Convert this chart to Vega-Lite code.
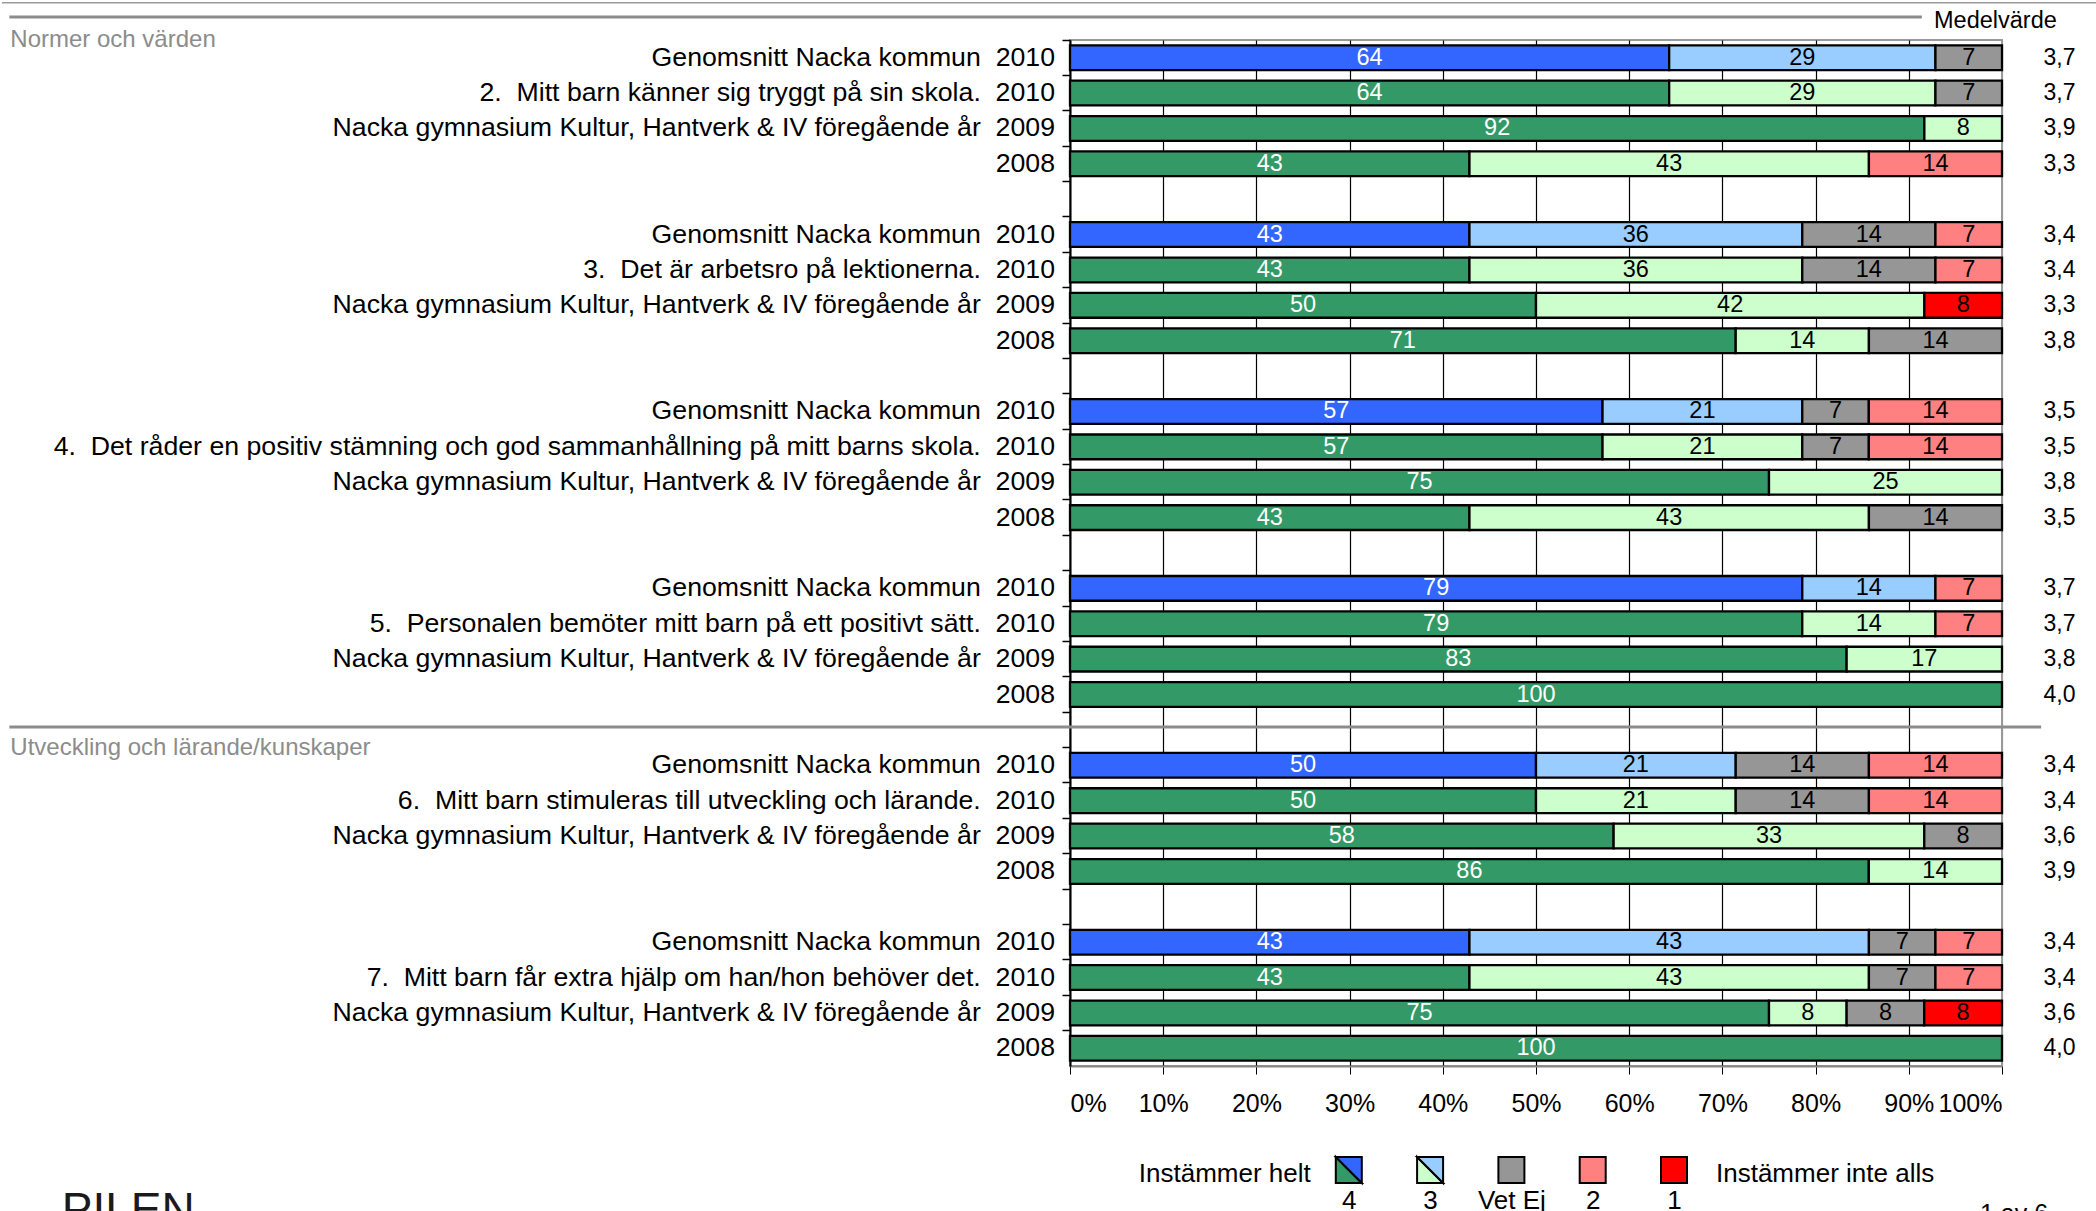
{
  "$schema": "https://vega.github.io/schema/vega-lite/v6.json",
  "padding": 0,
  "background": "white",
  "spacing": 36,
  "config": {
    "font": "Liberation Sans",
    "view": {"stroke": null},
    "axis": {"labelFont": "Liberation Sans"}
  },
  "datasets": {
    "segs": [
      {"row": "r00", "cat": "4k", "n": 1, "v": 64.29}, {"row": "r00", "cat": "3k", "n": 2, "v": 28.57}, {"row": "r00", "cat": "VE", "n": 3, "v": 7.14},
      {"row": "r01", "cat": "4", "n": 1, "v": 64.29}, {"row": "r01", "cat": "3", "n": 2, "v": 28.57}, {"row": "r01", "cat": "VE", "n": 3, "v": 7.14},
      {"row": "r02", "cat": "4", "n": 1, "v": 91.67}, {"row": "r02", "cat": "3", "n": 2, "v": 8.33},
      {"row": "r03", "cat": "4", "n": 1, "v": 42.86}, {"row": "r03", "cat": "3", "n": 2, "v": 42.86}, {"row": "r03", "cat": "2", "n": 4, "v": 14.28},
      {"row": "r05", "cat": "4k", "n": 1, "v": 42.86}, {"row": "r05", "cat": "3k", "n": 2, "v": 35.71}, {"row": "r05", "cat": "VE", "n": 3, "v": 14.29}, {"row": "r05", "cat": "2", "n": 4, "v": 7.14},
      {"row": "r06", "cat": "4", "n": 1, "v": 42.86}, {"row": "r06", "cat": "3", "n": 2, "v": 35.71}, {"row": "r06", "cat": "VE", "n": 3, "v": 14.29}, {"row": "r06", "cat": "2", "n": 4, "v": 7.14},
      {"row": "r07", "cat": "4", "n": 1, "v": 50}, {"row": "r07", "cat": "3", "n": 2, "v": 41.67}, {"row": "r07", "cat": "1", "n": 5, "v": 8.33},
      {"row": "r08", "cat": "4", "n": 1, "v": 71.43}, {"row": "r08", "cat": "3", "n": 2, "v": 14.29}, {"row": "r08", "cat": "VE", "n": 3, "v": 14.28},
      {"row": "r10", "cat": "4k", "n": 1, "v": 57.14}, {"row": "r10", "cat": "3k", "n": 2, "v": 21.43}, {"row": "r10", "cat": "VE", "n": 3, "v": 7.14}, {"row": "r10", "cat": "2", "n": 4, "v": 14.29},
      {"row": "r11", "cat": "4", "n": 1, "v": 57.14}, {"row": "r11", "cat": "3", "n": 2, "v": 21.43}, {"row": "r11", "cat": "VE", "n": 3, "v": 7.14}, {"row": "r11", "cat": "2", "n": 4, "v": 14.29},
      {"row": "r12", "cat": "4", "n": 1, "v": 75}, {"row": "r12", "cat": "3", "n": 2, "v": 25},
      {"row": "r13", "cat": "4", "n": 1, "v": 42.86}, {"row": "r13", "cat": "3", "n": 2, "v": 42.86}, {"row": "r13", "cat": "VE", "n": 3, "v": 14.28},
      {"row": "r15", "cat": "4k", "n": 1, "v": 78.57}, {"row": "r15", "cat": "3k", "n": 2, "v": 14.29}, {"row": "r15", "cat": "2", "n": 4, "v": 7.14},
      {"row": "r16", "cat": "4", "n": 1, "v": 78.57}, {"row": "r16", "cat": "3", "n": 2, "v": 14.29}, {"row": "r16", "cat": "2", "n": 4, "v": 7.14},
      {"row": "r17", "cat": "4", "n": 1, "v": 83.33}, {"row": "r17", "cat": "3", "n": 2, "v": 16.67},
      {"row": "r18", "cat": "4", "n": 1, "v": 100},
      {"row": "r20", "cat": "4k", "n": 1, "v": 50}, {"row": "r20", "cat": "3k", "n": 2, "v": 21.43}, {"row": "r20", "cat": "VE", "n": 3, "v": 14.29}, {"row": "r20", "cat": "2", "n": 4, "v": 14.28},
      {"row": "r21", "cat": "4", "n": 1, "v": 50}, {"row": "r21", "cat": "3", "n": 2, "v": 21.43}, {"row": "r21", "cat": "VE", "n": 3, "v": 14.29}, {"row": "r21", "cat": "2", "n": 4, "v": 14.28},
      {"row": "r22", "cat": "4", "n": 1, "v": 58.33}, {"row": "r22", "cat": "3", "n": 2, "v": 33.33}, {"row": "r22", "cat": "VE", "n": 3, "v": 8.34},
      {"row": "r23", "cat": "4", "n": 1, "v": 85.71}, {"row": "r23", "cat": "3", "n": 2, "v": 14.29},
      {"row": "r25", "cat": "4k", "n": 1, "v": 42.86}, {"row": "r25", "cat": "3k", "n": 2, "v": 42.86}, {"row": "r25", "cat": "VE", "n": 3, "v": 7.14}, {"row": "r25", "cat": "2", "n": 4, "v": 7.14},
      {"row": "r26", "cat": "4", "n": 1, "v": 42.86}, {"row": "r26", "cat": "3", "n": 2, "v": 42.86}, {"row": "r26", "cat": "VE", "n": 3, "v": 7.14}, {"row": "r26", "cat": "2", "n": 4, "v": 7.14},
      {"row": "r27", "cat": "4", "n": 1, "v": 75}, {"row": "r27", "cat": "3", "n": 2, "v": 8.33}, {"row": "r27", "cat": "VE", "n": 3, "v": 8.33}, {"row": "r27", "cat": "1", "n": 5, "v": 8.34},
      {"row": "r28", "cat": "4", "n": 1, "v": 100}
    ],
    "rows": [
      {"row": "r00", "label": "Genomsnitt Nacka kommun\u00a0\u00a02010", "mean": "3,7"},
      {"row": "r01", "label": "2.\u00a0\u00a0Mitt barn känner sig tryggt på sin skola.\u00a0\u00a02010", "mean": "3,7"},
      {"row": "r02", "label": "Nacka gymnasium Kultur, Hantverk & IV föregående år\u00a0\u00a02009", "mean": "3,9"},
      {"row": "r03", "label": "2008", "mean": "3,3"},
      {"row": "r04", "label": "", "mean": ""},
      {"row": "r05", "label": "Genomsnitt Nacka kommun\u00a0\u00a02010", "mean": "3,4"},
      {"row": "r06", "label": "3.\u00a0\u00a0Det är arbetsro på lektionerna.\u00a0\u00a02010", "mean": "3,4"},
      {"row": "r07", "label": "Nacka gymnasium Kultur, Hantverk & IV föregående år\u00a0\u00a02009", "mean": "3,3"},
      {"row": "r08", "label": "2008", "mean": "3,8"},
      {"row": "r09", "label": "", "mean": ""},
      {"row": "r10", "label": "Genomsnitt Nacka kommun\u00a0\u00a02010", "mean": "3,5"},
      {"row": "r11", "label": "4.\u00a0\u00a0Det råder en positiv stämning och god sammanhållning på mitt barns skola.\u00a0\u00a02010", "mean": "3,5"},
      {"row": "r12", "label": "Nacka gymnasium Kultur, Hantverk & IV föregående år\u00a0\u00a02009", "mean": "3,8"},
      {"row": "r13", "label": "2008", "mean": "3,5"},
      {"row": "r14", "label": "", "mean": ""},
      {"row": "r15", "label": "Genomsnitt Nacka kommun\u00a0\u00a02010", "mean": "3,7"},
      {"row": "r16", "label": "5.\u00a0\u00a0Personalen bemöter mitt barn på ett positivt sätt.\u00a0\u00a02010", "mean": "3,7"},
      {"row": "r17", "label": "Nacka gymnasium Kultur, Hantverk & IV föregående år\u00a0\u00a02009", "mean": "3,8"},
      {"row": "r18", "label": "2008", "mean": "4,0"},
      {"row": "r19", "label": "", "mean": ""},
      {"row": "r20", "label": "Genomsnitt Nacka kommun\u00a0\u00a02010", "mean": "3,4"},
      {"row": "r21", "label": "6.\u00a0\u00a0Mitt barn stimuleras till utveckling och lärande.\u00a0\u00a02010", "mean": "3,4"},
      {"row": "r22", "label": "Nacka gymnasium Kultur, Hantverk & IV föregående år\u00a0\u00a02009", "mean": "3,6"},
      {"row": "r23", "label": "2008", "mean": "3,9"},
      {"row": "r24", "label": "", "mean": ""},
      {"row": "r25", "label": "Genomsnitt Nacka kommun\u00a0\u00a02010", "mean": "3,4"},
      {"row": "r26", "label": "7.\u00a0\u00a0Mitt barn får extra hjälp om han/hon behöver det.\u00a0\u00a02010", "mean": "3,4"},
      {"row": "r27", "label": "Nacka gymnasium Kultur, Hantverk & IV föregående år\u00a0\u00a02009", "mean": "3,6"},
      {"row": "r28", "label": "2008", "mean": "4,0"}
    ]
  },
  "vconcat": [
    {
      "width": 932,
      "height": 1026,
      "view": {"stroke": "#999999", "strokeWidth": 2},
      "layer": [
        {
          "data": {"name": "segs"},
          "mark": {"type": "bar", "height": {"band": 0.7}, "stroke": "black", "strokeWidth": 2.3},
          "encoding": {
            "y": {"field": "row", "type": "ordinal", "title": null,
                  "scale": {"paddingInner": 0, "paddingOuter": 0},
                  "axis": {"labels": false, "title": null, "domainColor": "black", "domainWidth": 2, "tickColor": "black", "tickSize": 8, "tickWidth": 1.5, "bandPosition": 0, "grid": false}},
            "x": {"field": "v", "type": "quantitative", "stack": "zero", "title": null,
                  "scale": {"domain": [0, 100], "nice": false},
                  "axis": {"title": null, "values": [0, 10, 20, 30, 40, 50, 60, 70, 80, 90, 100], "labelExpr": "datum.value + '%'", "grid": true,
                           "gridColor": {"condition": {"test": "datum.value == 100", "value": "#999999"}, "value": "black"}, "gridWidth": 1.2,
                           "tickColor": "black", "tickSize": 8, "labelFontSize": 25, "labelPadding": 17, "labelColor": "black", "domainColor": "#888888", "domainWidth": 2}},
            "color": {"field": "cat", "type": "nominal", "legend": null,
                      "scale": {"domain": ["4k", "3k", "4", "3", "VE", "2", "1"], "range": ["#3366FF", "#99CCFF", "#339966", "#CCFFCC", "#969696", "#FF8080", "#FF0000"]}},
            "order": {"field": "n", "type": "quantitative"}
          }
        },
        {
          "data": {"name": "segs"},
          "mark": {"type": "text", "fontSize": 23.5, "baseline": "middle"},
          "encoding": {
            "y": {"field": "row", "type": "ordinal", "title": null},
            "x": {"field": "v", "type": "quantitative", "stack": "zero", "bandPosition": 0.5, "scale": {"domain": [0, 100], "nice": false}, "title": null},
            "detail": {"field": "cat", "type": "nominal"},
            "order": {"field": "n", "type": "quantitative"},
            "text": {"field": "v", "type": "quantitative", "format": ".0f"},
            "color": {"condition": {"test": "datum.cat === '4' || datum.cat === '4k'", "value": "white"}, "value": "black"}
          }
        },
        {
          "data": {"name": "rows"},
          "mark": {"type": "text", "align": "right", "baseline": "middle", "dx": -15, "fontSize": 26.7, "color": "black"},
          "encoding": {
            "y": {"field": "row", "type": "ordinal", "title": null},
            "x": {"datum": 0, "type": "quantitative", "scale": {"domain": [0, 100], "nice": false}},
            "text": {"field": "label", "type": "nominal"}
          }
        },
        {
          "data": {"name": "rows"},
          "mark": {"type": "text", "align": "center", "baseline": "middle", "dx": 57.5, "fontSize": 23, "color": "black"},
          "encoding": {
            "y": {"field": "row", "type": "ordinal", "title": null},
            "x": {"datum": 100, "type": "quantitative", "scale": {"domain": [0, 100], "nice": false}},
            "text": {"field": "mean", "type": "nominal"}
          }
        },
        {
          "data": {"values": [{"row": "r00", "t": "Medelvärde"}]},
          "mark": {"type": "text", "align": "center", "baseline": "middle", "dx": -6.6, "yOffset": -19.5, "fontSize": 23.5, "color": "black"},
          "encoding": {
            "y": {"field": "row", "type": "ordinal", "bandPosition": 0, "title": null},
            "x": {"datum": 100, "type": "quantitative", "scale": {"domain": [0, 100], "nice": false}},
            "text": {"field": "t", "type": "nominal"}
          }
        },
        {
          "data": {"values": [{"row": "r00", "t": "Normer och värden"}, {"row": "r20", "t": "Utveckling och lärande/kunskaper"}]},
          "mark": {"type": "text", "align": "left", "baseline": "middle", "fontSize": 24, "color": "#8c8c8c"},
          "encoding": {
            "y": {"field": "row", "type": "ordinal", "bandPosition": 0, "title": null},
            "x": {"datum": -113.7, "type": "quantitative", "scale": {"domain": [0, 100], "nice": false}},
            "text": {"field": "t", "type": "nominal"}
          }
        },
        {
          "data": {"values": [{"row": "r19"}]},
          "mark": {"type": "rule", "color": "#8c8c8c", "strokeWidth": 3, "yOffset": -3},
          "encoding": {
            "y": {"field": "row", "type": "ordinal", "title": null},
            "x": {"datum": -113.8, "type": "quantitative", "scale": {"domain": [0, 100], "nice": false}},
            "x2": {"datum": 104.2}
          }
        },
        {
          "data": {"values": [{"row": "r00"}]},
          "mark": {"type": "rule", "color": "#8c8c8c", "strokeWidth": 3, "yOffset": -23},
          "encoding": {
            "y": {"field": "row", "type": "ordinal", "bandPosition": 0, "title": null},
            "x": {"datum": -113.8, "type": "quantitative", "scale": {"domain": [0, 100], "nice": false}},
            "x2": {"datum": 91.4}
          }
        },
        {
          "data": {"values": [{"row": "r00"}]},
          "mark": {"type": "rule", "color": "#9a9a9a", "strokeWidth": 1.5, "yOffset": -37.3},
          "encoding": {
            "y": {"field": "row", "type": "ordinal", "bandPosition": 0, "title": null},
            "x": {"datum": -114.6, "type": "quantitative", "scale": {"domain": [0, 100], "nice": false}},
            "x2": {"datum": 110.3}
          }
        }
      ]
    },
    {
      "width": 932,
      "height": 26,
      "layer": [
        {
          "data": {"values": [
            {"code": "4", "part": "lo", "cat": "4"}, {"code": "4", "part": "hi", "cat": "4k"},
            {"code": "3", "part": "lo", "cat": "3"}, {"code": "3", "part": "hi", "cat": "3k"},
            {"code": "Vet Ej", "part": "full", "cat": "VE"}, {"code": "2", "part": "full", "cat": "2"}, {"code": "1", "part": "full", "cat": "1"}
          ]},
          "mark": {"type": "point", "filled": true, "size": 676, "stroke": "black", "strokeWidth": 2, "opacity": 1},
          "encoding": {
            "x": {"field": "code", "type": "nominal",
                  "scale": {"type": "point", "domain": ["4", "3", "Vet Ej", "2", "1"], "range": [278.8, 604], "padding": 0},
                  "axis": {"title": null, "domain": false, "ticks": false, "tickSize": 0, "labelPadding": 4, "labelFontSize": 26, "labelColor": "black", "labelAngle": 0, "grid": false}},
            "color": {"field": "cat", "type": "nominal", "legend": null,
                      "scale": {"domain": ["4k", "3k", "4", "3", "VE", "2", "1"], "range": ["#3366FF", "#99CCFF", "#339966", "#CCFFCC", "#969696", "#FF8080", "#FF0000"]}},
            "shape": {"field": "part", "type": "nominal", "legend": null,
                      "scale": {"domain": ["lo", "hi", "full"], "range": ["M-1,-1L-1,1L1,1Z", "M-1,-1L1,-1L1,1Z", "square"]}}
          }
        },
        {
          "data": {"values": [{"code": "4", "t": "Instämmer helt"}]},
          "mark": {"type": "text", "align": "right", "baseline": "middle", "dx": -38, "dy": 4, "fontSize": 26, "color": "black"},
          "encoding": {
            "x": {"field": "code", "type": "nominal"},
            "text": {"field": "t", "type": "nominal"}
          }
        },
        {
          "data": {"values": [{"code": "1", "t": "Instämmer inte alls"}]},
          "mark": {"type": "text", "align": "left", "baseline": "middle", "dx": 42, "dy": 4, "fontSize": 26, "color": "black"},
          "encoding": {
            "x": {"field": "code", "type": "nominal"},
            "text": {"field": "t", "type": "nominal"}
          }
        },
        {
          "data": {"values": [{"code": "1", "t": "1 av 6"}]},
          "mark": {"type": "text", "align": "left", "baseline": "alphabetic", "dx": 306, "dy": 52, "fontSize": 25, "color": "black"},
          "encoding": {
            "x": {"field": "code", "type": "nominal"},
            "text": {"field": "t", "type": "nominal"}
          }
        },
        {
          "data": {"values": [{"code": "4", "t": "PILEN"}]},
          "mark": {"type": "text", "align": "left", "baseline": "alphabetic", "dx": -1287, "dy": 55, "fontSize": 46, "color": "#1a1a1a"},
          "encoding": {
            "x": {"field": "code", "type": "nominal"},
            "text": {"field": "t", "type": "nominal"}
          }
        }
      ]
    }
  ]
}
